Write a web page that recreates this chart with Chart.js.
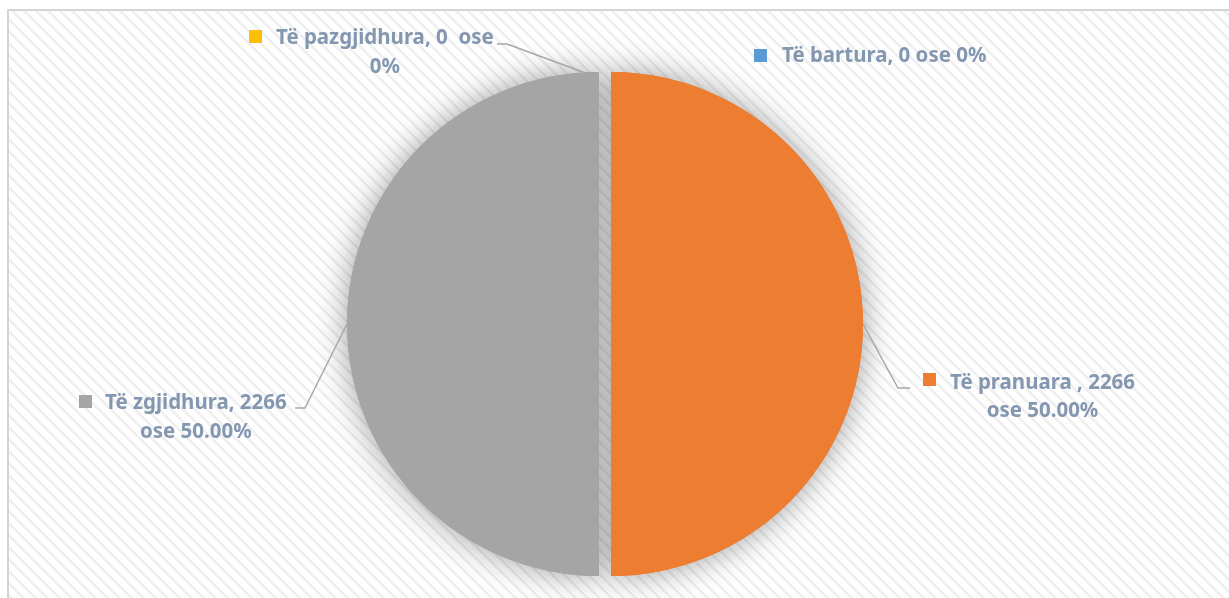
<!DOCTYPE html>
<html><head><meta charset="utf-8">
<script src="https://cdn.jsdelivr.net/npm/chart.js@4"></script>
<style>html,body{margin:0;padding:0;background:#fff}#wrap{width:1229px;height:598px;position:relative;overflow:hidden}</style>
</head><body><div id="wrap"><canvas id="c" width="1229" height="598"></canvas></div>
<script>
// ---- data ----
const categories = ['Të pranuara', 'Të zgjidhura', 'Të pazgjidhura', 'Të bartura'];
const values = [2266, 2266, 0, 0];
const sliceColors = ['#ED7D31', '#A5A5A5', '#FFC000', '#5B9BD5'];
const labelLines = [
  ['Të pranuara , 2266', 'ose 50.00%'],
  ['Të zgjidhura, 2266', 'ose 50.00%'],
  ['Të pazgjidhura, 0  ose', '0%'],
  ['Të bartura, 0 ose 0%']
];

// ---- layout / style ----
const GAP = 6;
const TEXT_COLOR = '#8497B0';
const FONT = 'bold 22px "Noto Sans"';
const CALIB_TEXT = 'Të pranuara , 2266';
const CALIB_WIDTH = 185;
let SX = 1;
const labelLayout = [
  {key: [923, 373], x: 950, y: 389, lh: 28, elbow: [[910, 388], [898, 388]], anchor: true},
  {key: [79, 395], x: 105, y: 409, lh: 29, elbow: [[295, 408], [305, 408]], anchor: true},
  {key: [249, 30], x: 276, y: 44, lh: 29, elbow: [[497, 44], [507, 44]], anchor: true, adj: [-6, 6]},
  {key: [754, 49], x: 782, y: 62, lh: 28, elbow: null, anchor: false}
];

function makePattern(ctx) {
  const c = document.createElement('canvas');
  c.width = 12; c.height = 12;
  const p = c.getContext('2d');
  p.fillStyle = '#ffffff'; p.fillRect(0, 0, 12, 12);
  for (let y = 0; y < 12; y++) {
    for (let x = 0; x < 12; x++) {
      const d = ((x - y) % 12 + 12) % 12;
      if (d < 4) { p.fillStyle = '#f0f0f0'; p.fillRect(x, y, 1, 1); }
      else if (d === 7 && (y % 3 === 0)) { p.fillStyle = '#f6f6f6'; p.fillRect(x, y, 1, 1); }
    }
  }
  return ctx.createPattern(c, 'repeat');
}

function drawScaledText(ctx, txt, x, y) {
  ctx.save();
  ctx.translate(x, y);
  ctx.scale(SX, 1);
  ctx.fillText(txt, 0, 0);
  ctx.restore();
}

const lookPlugin = {
  id: 'look',
  beforeDraw(chart) {
    const ctx = chart.ctx;
    ctx.save();
    ctx.fillStyle = '#ffffff';
    ctx.fillRect(0, 0, chart.width, chart.height);
    ctx.fillStyle = makePattern(ctx);
    ctx.fillRect(8, 10, chart.width - 8, chart.height - 10);
    ctx.strokeStyle = '#d4d4d4';
    ctx.lineWidth = 2;
    ctx.beginPath();
    ctx.moveTo(8, chart.height);
    ctx.lineTo(8, 10);
    ctx.lineTo(chart.width, 10);
    ctx.stroke();
    ctx.restore();
  },
  beforeDatasetsDraw(chart) {
    const ctx = chart.ctx;
    const meta = chart.getDatasetMeta(0);
    ctx.save();
    ctx.shadowColor = 'rgba(0,0,0,0.38)';
    ctx.shadowBlur = 32;
    meta.data.forEach(el => {
      const mid = (el.startAngle + el.endAngle) / 2;
      ctx.save();
      ctx.translate(Math.cos(mid) * GAP, Math.sin(mid) * GAP);
      el.draw(ctx);
      ctx.restore();
    });
    ctx.restore();
    ctx.save();
    meta.data.forEach(el => {
      const mid = (el.startAngle + el.endAngle) / 2;
      ctx.save();
      ctx.translate(Math.cos(mid) * GAP, Math.sin(mid) * GAP);
      el.draw(ctx);
      ctx.restore();
    });
    ctx.restore();
    return false;
  },
  afterDraw(chart) {
    const ctx = chart.ctx;
    const meta = chart.getDatasetMeta(0);
    ctx.save();
    ctx.font = FONT;
    SX = CALIB_WIDTH / ctx.measureText(CALIB_TEXT).width;
    meta.data.forEach((el, i) => {
      const L = labelLayout[i];
      const mid = (el.startAngle + el.endAngle) / 2;
      if (L.elbow && L.anchor) {
        let ax, ay;
        if (el.endAngle - el.startAngle > 0) {
          ax = el.x + Math.cos(mid) * (el.outerRadius + GAP);
          ay = el.y + Math.sin(mid) * (el.outerRadius + GAP);
        } else {
          ax = el.x + Math.cos(mid) * el.outerRadius;
          ay = el.y + Math.sin(mid) * el.outerRadius;
        }
        if (L.adj) { ax += L.adj[0]; ay += L.adj[1]; }
        ctx.strokeStyle = '#a6a6a6';
        ctx.lineWidth = 1.4;
        ctx.beginPath();
        ctx.moveTo(L.elbow[0][0], L.elbow[0][1]);
        ctx.lineTo(L.elbow[1][0], L.elbow[1][1]);
        ctx.lineTo(ax, ay);
        ctx.stroke();
      }
      ctx.fillStyle = sliceColors[i];
      ctx.fillRect(L.key[0], L.key[1], 13, 13);
      ctx.fillStyle = TEXT_COLOR;
      ctx.font = FONT;
      ctx.textBaseline = 'alphabetic';
      ctx.textAlign = 'left';
      const lines = labelLines[i];
      const w0 = ctx.measureText(lines[0]).width * SX;
      const cx = L.x + w0 / 2;
      drawScaledText(ctx, lines[0], L.x, L.y);
      for (let k = 1; k < lines.length; k++) {
        const wk = ctx.measureText(lines[k]).width * SX;
        drawScaledText(ctx, lines[k], cx - wk / 2, L.y + L.lh * k);
      }
    });
    ctx.restore();
  }
};

new Chart(document.getElementById('c'), {
  type: 'pie',
  data: {
    labels: categories,
    datasets: [{
      data: values,
      backgroundColor: sliceColors,
      borderWidth: 0,
      hoverOffset: 0,
      offset: 0
    }]
  },
  options: {
    responsive: false,
    animation: false,
    devicePixelRatio: 1,
    events: [],
    layout: {padding: {top: 72, bottom: 22, left: 0, right: 19}},
    plugins: {legend: {display: false}, tooltip: {enabled: false}}
  },
  plugins: [lookPlugin]
});
</script>
</body></html>
